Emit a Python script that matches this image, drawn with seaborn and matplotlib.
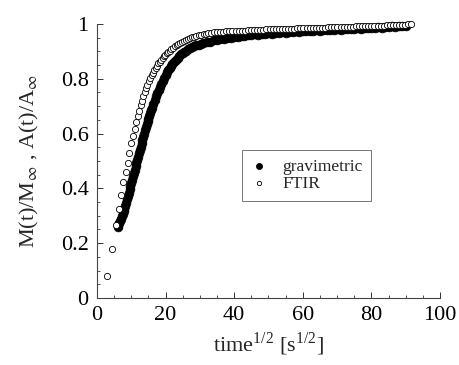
import matplotlib
matplotlib.use("Agg")
import matplotlib.pyplot as plt
import seaborn as sns
import pandas as pd
from matplotlib.ticker import MultipleLocator

# ---- data ----
grav_x = [6.00, 6.25, 6.50, 6.75, 7.00, 7.25, 7.50, 7.75, 8.00, 8.25, 8.50, 8.75,
          9.00, 9.25, 9.50, 9.75, 10.00, 10.25, 10.50, 10.75, 11.00, 11.25, 11.50,
          11.75, 12.00, 12.25, 12.50, 12.75, 13.00, 13.25, 13.50, 13.75, 14.00,
          14.25, 14.50, 14.75, 15.00, 15.25, 15.50, 15.75, 16.00,
          16.4, 16.8, 17.2, 17.6, 18.0, 18.4, 18.8, 19.2, 19.6, 20.0, 20.4, 20.8,
          21.2, 21.6, 22.0, 22.5, 23.0, 23.5, 24.0, 24.5, 25.0, 25.5, 26.0, 26.6,
          27.2, 27.8, 28.4, 29.0, 29.6, 30.2,
          31, 32, 33, 34, 35, 36, 37, 38, 39, 40, 41, 42, 43, 44, 45, 46, 47, 48,
          49, 50, 51, 52, 53, 54, 55, 56, 57, 58, 59, 60, 61, 62, 63, 64, 65, 66,
          67, 68, 69, 70, 71, 72, 73, 74, 75, 76, 77, 78, 79, 80, 81, 82, 83, 84,
          85, 86, 87, 88, 89, 90]
grav_y = [0.258, 0.265, 0.272, 0.281, 0.290, 0.299, 0.308, 0.317, 0.326, 0.337,
          0.348, 0.360, 0.372, 0.384, 0.396, 0.408, 0.420, 0.432, 0.444, 0.456,
          0.468, 0.480, 0.492, 0.504, 0.516, 0.528, 0.540, 0.552, 0.564, 0.576,
          0.588, 0.600, 0.612, 0.623, 0.634, 0.645, 0.655, 0.665, 0.675, 0.685,
          0.694,
          0.709, 0.722, 0.736, 0.748, 0.760, 0.771, 0.782, 0.793, 0.803, 0.813,
          0.823, 0.832, 0.840, 0.848, 0.855, 0.863, 0.870, 0.877, 0.883, 0.889,
          0.894, 0.899, 0.903, 0.908, 0.912, 0.916, 0.919, 0.922, 0.925, 0.928,
          0.930, 0.934, 0.936, 0.940, 0.941, 0.945, 0.946, 0.950, 0.950, 0.954,
          0.953, 0.957, 0.956, 0.960, 0.959, 0.962, 0.961, 0.965, 0.963, 0.966,
          0.965, 0.968, 0.966, 0.970, 0.968, 0.971, 0.970, 0.973, 0.971, 0.974,
          0.973, 0.976, 0.974, 0.977, 0.975, 0.978, 0.977, 0.979, 0.978, 0.981,
          0.979, 0.982, 0.980, 0.983, 0.982, 0.984, 0.983, 0.985, 0.984, 0.987,
          0.985, 0.988, 0.987, 0.989, 0.988, 0.991, 0.989, 0.992, 0.991, 0.993]

ftir_x = [3.0, 4.4, 5.6, 6.3, 7.1, 7.7, 8.4, 8.9, 9.4, 10.0, 10.5, 11.0, 11.5,
          11.9, 12.3, 12.7, 13.1, 13.5, 13.9, 14.3, 14.7, 15.1, 15.5, 15.9, 16.3,
          16.7, 17.1, 17.5, 17.9, 18.3, 18.7, 19.1, 19.5, 19.9, 20.3, 20.7, 21.2,
          21.7, 22.2, 22.7, 23.2, 23.7, 24.2, 24.8, 25.4, 26.0, 26.6, 27.2, 27.8,
          28.4, 29.0, 29.7, 30.4, 31.1, 31.8, 32.5, 33.3, 34.1, 35.0, 35.9, 36.8,
          37.7, 38.6, 39.5, 40.4, 41.3, 42.2, 43.1, 44.0, 44.9, 45.8, 46.7, 47.6,
          48.5, 49.4, 50.3, 51.2, 52.1, 53.0, 53.9, 54.8, 55.7, 56.6, 57.5, 58.4,
          59.3, 60.2, 61.1, 62.0, 62.9, 63.8, 64.7, 65.6, 66.5, 67.4, 68.3, 69.2,
          70.1, 71.0, 71.9, 72.8, 73.7, 74.6, 75.5, 76.4, 77.3, 78.2, 79.1, 80.0,
          80.9, 81.8, 82.7, 83.6, 84.5, 85.4, 86.3, 87.2, 88.1, 89.0, 89.9, 90.8,
          91.5]
ftir_y = [0.080, 0.180, 0.265, 0.325, 0.377, 0.423, 0.460, 0.494, 0.530, 0.565,
          0.592, 0.617, 0.642, 0.664, 0.684, 0.703, 0.720, 0.737, 0.752, 0.766,
          0.779, 0.791, 0.802, 0.812, 0.822, 0.831, 0.840, 0.848, 0.856, 0.863,
          0.870, 0.876, 0.882, 0.888, 0.893, 0.898, 0.903, 0.908, 0.913, 0.918,
          0.922, 0.926, 0.930, 0.934, 0.938, 0.942, 0.945, 0.948, 0.951, 0.954,
          0.957, 0.959, 0.961, 0.963, 0.965, 0.967, 0.968, 0.969, 0.970, 0.971,
          0.972, 0.973, 0.973, 0.974, 0.975, 0.975, 0.976, 0.976, 0.977, 0.977,
          0.978, 0.978, 0.979, 0.979, 0.980, 0.980, 0.981, 0.981, 0.981, 0.982,
          0.982, 0.983, 0.983, 0.983, 0.984, 0.984, 0.985, 0.985, 0.985, 0.986,
          0.986, 0.986, 0.987, 0.987, 0.988, 0.988, 0.988, 0.989, 0.989, 0.989,
          0.990, 0.990, 0.990, 0.991, 0.991, 0.992, 0.992, 0.992, 0.993, 0.993,
          0.993, 0.994, 0.994, 0.995, 0.995, 0.996, 0.996, 0.997, 0.997, 0.998,
          0.999, 1.000]

series_labels = ["gravimetric", "FTIR"]
x_ticks = [0, 20, 40, 60, 80, 100]
y_ticks = [0, 0.2, 0.4, 0.6, 0.8, 1]
y_tick_labels = ["0", "0.2", "0.4", "0.6", "0.8", "1"]

grav = pd.DataFrame({"x": grav_x, "y": grav_y})
ftir = pd.DataFrame({"x": ftir_x, "y": ftir_y})

sns.set_style("ticks")
plt.rcParams["font.family"] = ["Liberation Serif", "DejaVu Serif"]
plt.rcParams["mathtext.fontset"] = "stix"

fig = plt.figure(figsize=(4.59, 3.65), dpi=100)
ax = fig.add_axes([0.2113, 0.1836, 0.7473, 0.7507])

sns.scatterplot(data=grav, x="x", y="y", ax=ax, s=40, color="black",
                edgecolor="black", linewidth=0.5, marker="o",
                label=series_labels[0], clip_on=False, zorder=2)
sns.scatterplot(data=ftir, x="x", y="y", ax=ax, s=20, facecolor="white",
                edgecolor="black", linewidth=0.6, marker="o",
                label=series_labels[1], clip_on=False, zorder=3)

ax.set_xlim(0, 100)
ax.set_ylim(0, 1)
ax.set_xticks(x_ticks)
ax.set_yticks(y_ticks)
ax.set_xticklabels([str(v) for v in x_ticks])
ax.set_yticklabels(y_tick_labels)
ax.xaxis.set_minor_locator(MultipleLocator(5))
ax.yaxis.set_minor_locator(MultipleLocator(0.05))
ax.tick_params(which="major", direction="in", length=4.5, width=0.7,
               labelsize=16, colors="#333333", labelcolor="black", pad=6)
ax.tick_params(which="minor", direction="in", length=2.5, width=0.6,
               colors="#333333")
for side in ["top", "right"]:
    ax.spines[side].set_visible(False)
for side in ["left", "bottom"]:
    ax.spines[side].set_linewidth(0.8)
    ax.spines[side].set_color("#444444")

ax.set_xlabel(r"time$^{\mathregular{1/2}}$ [s$^{\mathregular{1/2}}$]", fontsize=16, labelpad=4)
ax.set_ylabel(r"M(t)/M$_{\infty}$ , A(t)/A$_{\infty}$", fontsize=16, labelpad=14)

leg = ax.legend(loc="upper left", bbox_to_anchor=(0.423, 0.54), fontsize=12.5,
                frameon=True, fancybox=False, edgecolor="#555555",
                handlelength=1.0, handletextpad=0.8, borderpad=0.5,
                labelspacing=0.05, markerscale=0.7, borderaxespad=0)
leg.get_frame().set_linewidth(0.7)

fig.savefig("out.png", dpi=100)
